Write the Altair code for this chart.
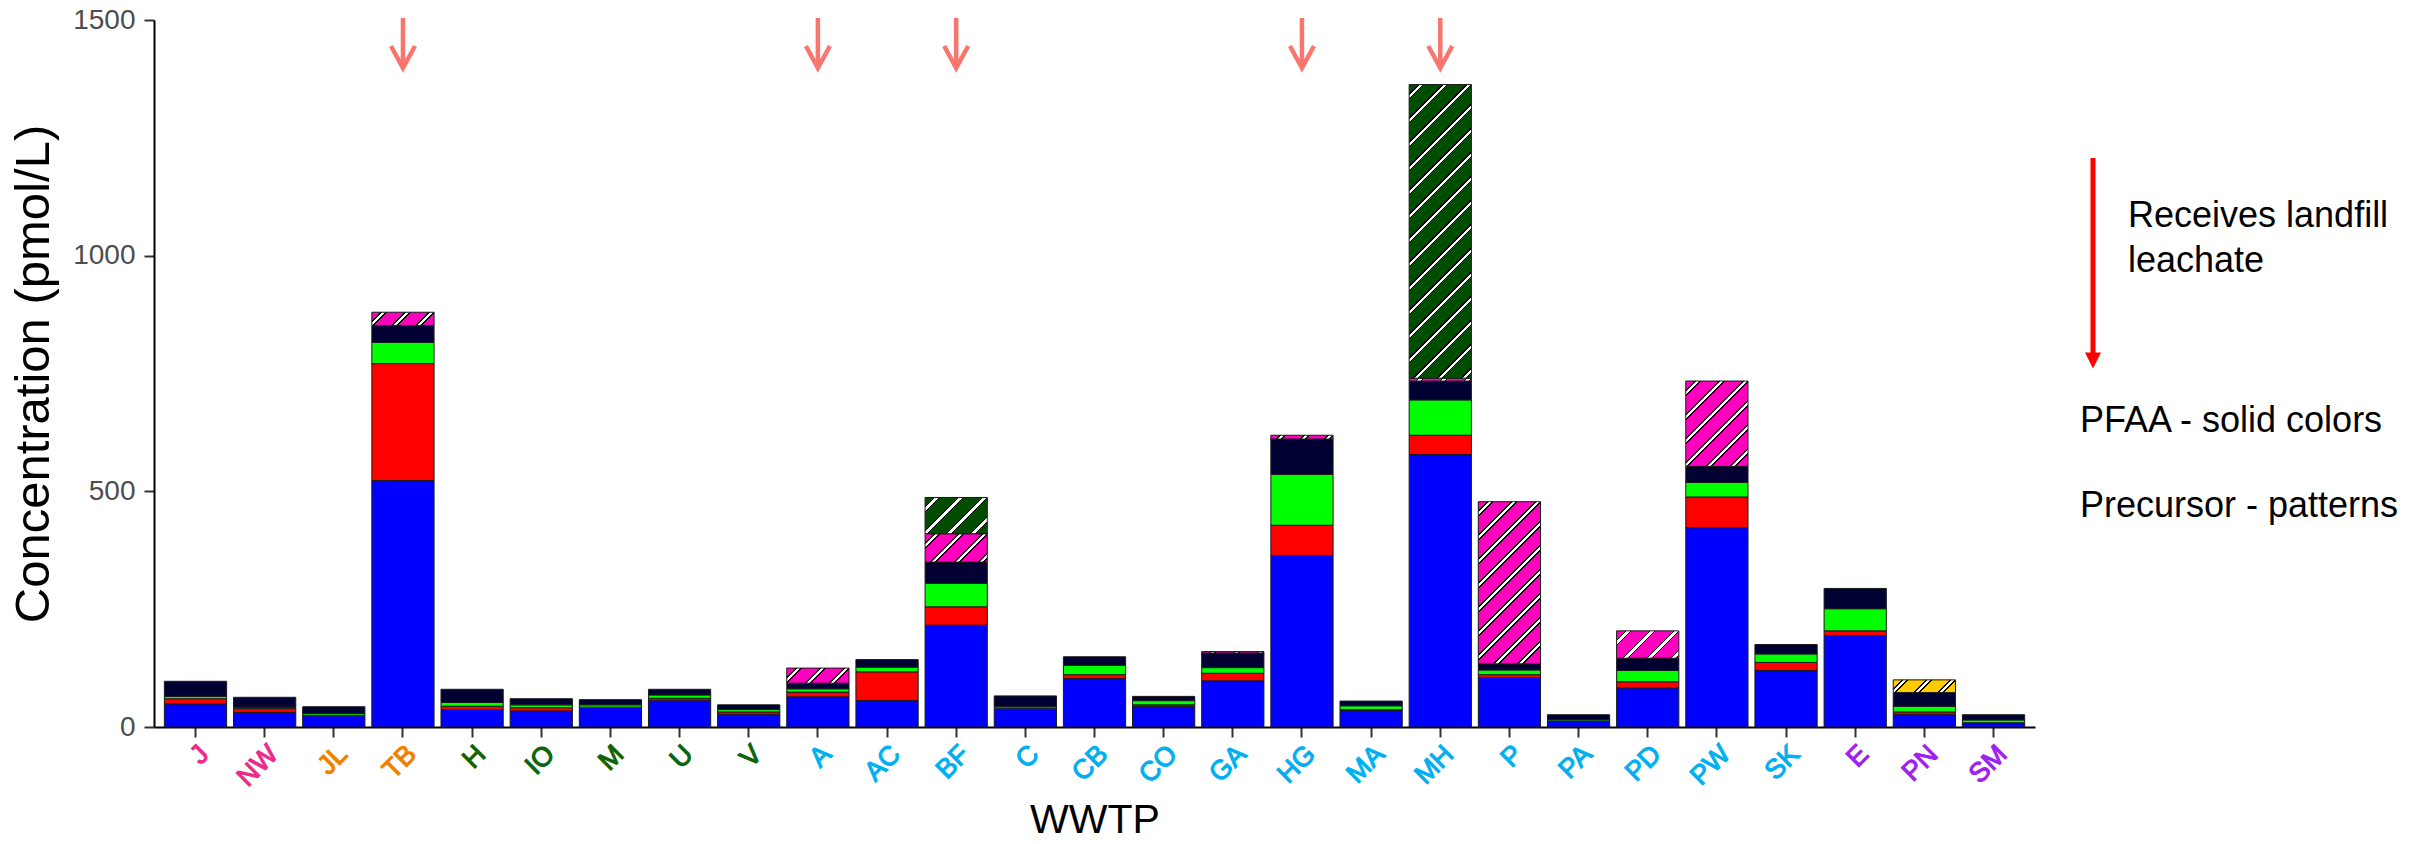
import altair as alt

# ---------------- data ----------------
wwtp = ["J", "NW", "JL", "TB", "H", "IO", "M", "U", "V", "A", "AC", "BF", "C", "CB",
        "CO", "GA", "HG", "MA", "MH", "P", "PA", "PD", "PW", "SK", "E", "PN", "SM"]

pfaa_blue = [49, 31, 24, 523, 37, 34, 42, 57, 27, 64, 56, 216, 40, 103,
             44, 98, 364, 35, 578, 105, 13, 83, 423, 120, 194, 27, 9]
pfaa_red = [11, 8, 1, 248, 7, 7, 0, 4, 5, 10, 61, 39, 0, 8,
            3, 16, 64, 2, 41, 6, 0, 13, 65, 17, 10, 5, 0]
pfaa_green = [5, 3, 4, 45, 8, 6, 5, 7, 5, 7, 10, 50, 3, 20,
              9, 12, 108, 8, 75, 10, 3, 24, 31, 18, 47, 12, 6]
pfaa_navy = [32, 21, 14, 36, 28, 13, 11, 12, 10, 12, 16, 45, 23, 18,
             9, 31, 75, 10, 40, 13, 10, 26, 34, 20, 43, 29, 11]
prec_pink = [0, 0, 0, 28, 0, 0, 0, 0, 0, 32, 0, 60, 0, 0,
             0, 3, 8, 0, 6, 344, 0, 58, 181, 0, 0, 0, 0]
prec_darkgreen = [0, 0, 0, 0, 0, 0, 0, 0, 0, 0, 0, 77, 0, 0,
                  0, 0, 0, 0, 623, 0, 0, 0, 0, 0, 0, 0, 0]
prec_gold = [0, 0, 0, 0, 0, 0, 0, 0, 0, 0, 0, 0, 0, 0,
             0, 0, 0, 0, 0, 0, 0, 0, 0, 0, 0, 27, 0]

landfill = ["TB", "A", "BF", "HG", "MH"]

label_groups = [
    (["J", "NW"], "#EC2A8C"),
    (["JL", "TB"], "#F08000"),
    (["H", "IO", "M", "U", "V"], "#0B650B"),
    (["E", "PN", "SM"], "#A020F0"),
]
default_label_color = "#00B0F0"

series = [
    ("PFAA 1", "#0000FF", pfaa_blue, False),
    ("PFAA 2", "#FF0000", pfaa_red, False),
    ("PFAA 3", "#00FF00", pfaa_green, False),
    ("PFAA 4", "#000033", pfaa_navy, False),
    ("Precursor 1", "#FF00BF", prec_pink, True),
    ("Precursor 2", "#004D00", prec_darkgreen, True),
    ("Precursor 3", "#FFCC00", prec_gold, True),
]

# ---------------- layout constants ----------------
W_PLOT, H_PLOT = 1881, 707
Y_MAX = 1500
PAD_IN, PAD_OUT = 0.1, 0.15
N = len(wwtp)
STEP = W_PLOT / (N - PAD_IN + 2 * PAD_OUT)
BAND = (1 - PAD_IN) * STEP
PX_PER_UNIT = H_PLOT / Y_MAX


def hatch(base, value):
    """Diagonal white stripes with black edges as a linear gradient (bbox units)."""
    w = BAND
    h = value * PX_PER_UNIT
    L = w + h
    period, half_white, edge = 24.0, 1.7, 1.5
    stops = [{"offset": 0, "color": base}]
    c = period / 2
    while c - half_white - edge < L:
        pts = [(c - half_white - edge, base), (c - half_white - edge, "#000000"),
               (c - half_white, "#000000"), (c - half_white, "#FFFFFF"),
               (c + half_white, "#FFFFFF"), (c + half_white, "#000000"),
               (c + half_white + edge, "#000000"), (c + half_white + edge, base)]
        for o, col in pts:
            stops.append({"offset": round(min(max(o / L, 0), 1), 5), "color": col})
        c += period
    stops.append({"offset": 1, "color": base})
    k = L / (w * w + h * h)
    return {"gradient": "linear", "x1": 0, "y1": 0,
            "x2": round(w * k, 6), "y2": round(h * k, 6), "stops": stops}


records = []
for i, site in enumerate(wwtp):
    for order, (name, color, vals, hatched) in enumerate(series):
        v = vals[i]
        if v <= 0:
            continue
        records.append({"WWTP": site, "component": name, "order": order,
                        "value": v, "paint": hatch(color, v) if hatched else color})


def label_color(site):
    for names, c in label_groups:
        if site in names:
            return c
    return default_label_color


FONT = "Liberation Sans"

x_axis = alt.Axis(
    title="WWTP", titleFont=FONT, titleFontSize=41, titleFontWeight="normal",
    titleColor="black", titleY=105, titleBaseline="alphabetic",
    labels=False,
    tickSize=10, tickWidth=2, tickColor="#333333",
    domainColor="black", domainWidth=2, grid=False,
)
y_axis = alt.Axis(
    title="Concentration (pmol/L)", titleFont=FONT, titleFontSize=49,
    titleFontWeight="normal", titleColor="black", titleAngle=270,
    titleBaseline="alphabetic", titleX=-106, titleAlign="center",
    values=[0, 500, 1000, 1500], format="d", labelFont=FONT, labelFontSize=28,
    labelColor="#4D4D4D", labelPadding=9,
    tickSize=10, tickWidth=2, tickColor="#333333",
    domainColor="black", domainWidth=2, grid=False,
)

x_enc = alt.X("WWTP:N", sort=wwtp,
              scale=alt.Scale(paddingInner=PAD_IN, paddingOuter=PAD_OUT),
              axis=x_axis)

bars = alt.Chart(alt.InlineData(values=records)).transform_stack(
    stack="value", groupby=["WWTP"], as_=["y0", "y1"],
    sort=[alt.SortField(field="order", order="ascending")],
).mark_bar(stroke="#1A1A1A", strokeWidth=1).encode(
    x=x_enc,
    y=alt.Y("y0:Q", scale=alt.Scale(domain=[0, Y_MAX], nice=False), axis=y_axis),
    y2="y1:Q",
    fill=alt.Fill("paint:N", scale=None, legend=None),
)

# rotated, coloured category labels (placed at the band centres of the x scale);
# regular weight with a thin stroke of the same colour to give a bold look
tick_labels = []
for i, site in enumerate(wwtp):
    centre = PAD_OUT * STEP + i * STEP + BAND / 2
    col = label_color(site)
    tick_labels.append(
        alt.Chart(alt.InlineData(values=[{"label": site}])).mark_text(
            font=FONT, fontSize=27, angle=315,
            align="right", baseline="top", color=col,
            stroke=col, strokeWidth=1.1,
        ).encode(text="label:N", x=alt.value(round(centre, 2)), y=alt.value(H_PLOT + 14))
    )

arrows = alt.Chart(alt.InlineData(values=[{"WWTP": s} for s in landfill])).mark_point(
    shape="M0,-1L0,1M-0.48,0.12L0,1L0.48,0.12", size=2500, filled=False,
    strokeWidth=4.5, color="#F8766D", opacity=1, strokeJoin="miter",
).encode(x=x_enc, y=alt.value(23))

one = alt.InlineData(values=[{"k": 1}])
legend_shaft = alt.Chart(one).mark_rule(color="#FF0000", strokeWidth=5).encode(
    x=alt.value(1939), y=alt.value(138), y2=alt.value(335))
legend_head = alt.Chart(one).mark_point(
    shape="M-1,-1L1,-1L0,1Z", size=256, filled=True, color="#FF0000", opacity=1
).encode(x=alt.value(1939), y=alt.value(340.5))


def note(text, x, y):
    return alt.Chart(alt.InlineData(values=[{"label": text}])).mark_text(
        font=FONT, fontSize=36, color="black", align="left", baseline="alphabetic"
    ).encode(text="label:N", x=alt.value(x), y=alt.value(y))


chart = alt.layer(
    bars, arrows, legend_shaft, legend_head,
    note("Receives landfill", 1974, 207),
    note("leachate", 1974, 252),
    note("PFAA - solid colors", 1926, 412),
    note("Precursor - patterns", 1926, 497),
    *tick_labels,
).properties(
    width=W_PLOT, height=H_PLOT,
    autosize=alt.AutoSizeParams(type="none"),
    padding={"left": 146, "top": 12, "right": 377, "bottom": 109},
    background="white",
).configure_view(stroke=None)

chart.save("out.html", embed_options={"renderer": "svg", "actions": False})
